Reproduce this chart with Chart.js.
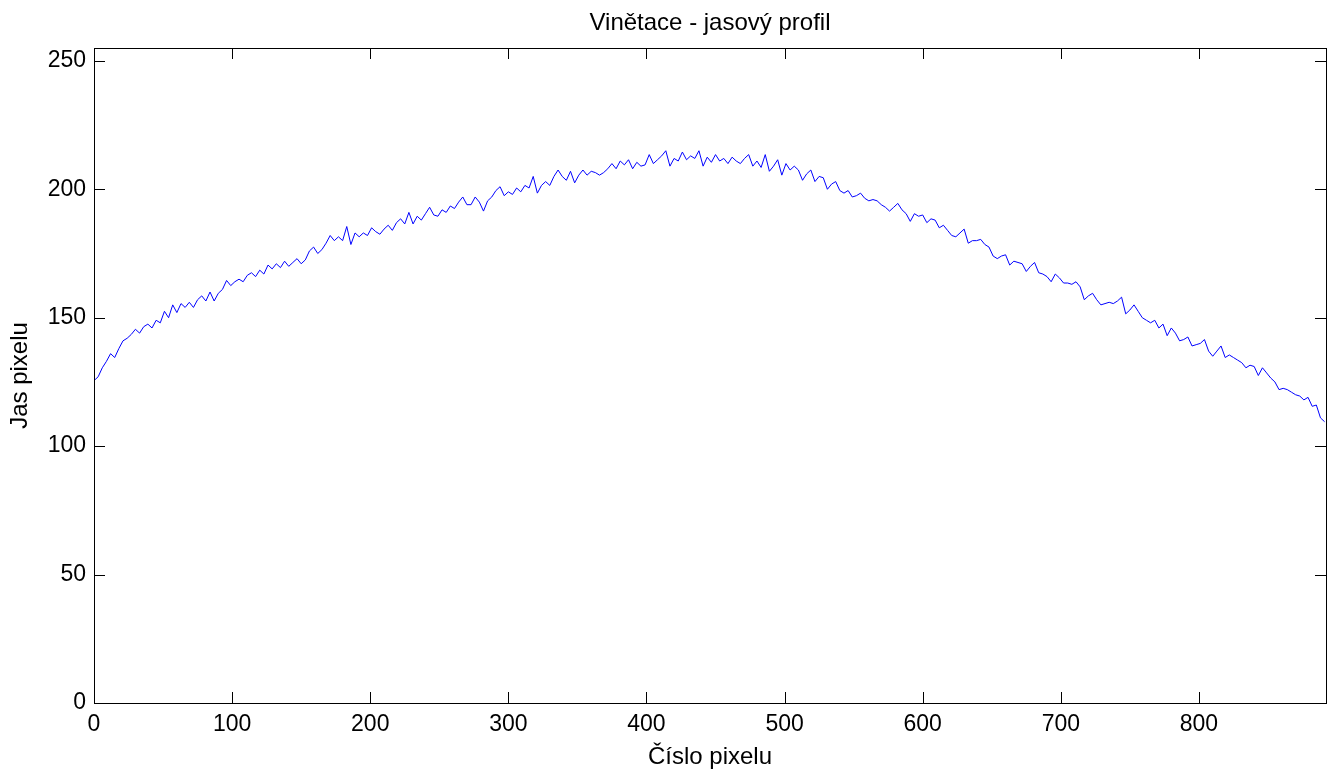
<!DOCTYPE html>
<html>
<head>
<meta charset="utf-8">
<script src="https://cdn.jsdelivr.net/npm/chart.js@4"></script>
<style>
    html, body { margin: 0; padding: 0; background: #fff; }
    #wrap { width: 1330px; height: 770px; }
</style>
</head>
<body>
<div id="wrap"><canvas id="profile"></canvas></div>
<script>
// Brightness profile, one value every 3 pixels (0 .. 891)
const PIXEL_STEP = 3;
const brightness = [
    125.5, 127, 130.5, 133, 136, 134.5, 138, 141, 142, 143.5,
    145.5, 144, 146.5, 147.5, 146, 149, 148, 152.5, 150, 155,
    152, 155.5, 154, 156, 154, 157, 158.5, 156.5, 160, 156.5,
    159.5, 161, 164.5, 162.5, 164, 165, 164, 166.5, 167.5, 166,
    168.5, 167, 170.5, 169, 171, 169.5, 172, 170, 171.5, 173,
    171, 172.5, 176, 177.5, 175, 176.5, 179, 182, 180, 181.5,
    180, 185.5, 178.5, 183, 181.5, 183, 182, 185, 183.5, 182.5,
    184.5, 186, 184, 187, 188.5, 186.5, 191, 186.5, 189.5, 188,
    190.5, 193, 190, 189.5, 192, 191, 193.5, 192.5, 195, 197,
    194, 194, 197, 195, 191.5, 195.5, 197, 199.5, 201, 197.5,
    199, 198, 200.5, 199, 201.5, 200.5, 205, 198.5, 201.5, 203,
    201.5, 205, 207.5, 205, 203.5, 207, 202.5, 205.5, 207.5, 205.5,
    207, 206.5, 205.5, 206.5, 208, 210, 208, 211, 209.5, 211.5,
    208, 210.5, 209, 209.5, 213.5, 210, 211.5, 213, 215, 209,
    212, 211, 214.5, 211.5, 213, 212, 215, 209, 212.5, 210.5,
    213.5, 211, 212, 210, 212.5, 211, 210, 212, 213.5, 209,
    211, 208.5, 213.5, 207, 209, 211.5, 205.5, 210, 207.5, 209,
    207.5, 203.5, 206, 207.5, 203, 205, 204.5, 200, 202, 203,
    199.5, 198.5, 199.5, 197, 197.5, 198.5, 196.5, 195.5, 196, 195.5,
    194, 193, 191.5, 193, 194.5, 192, 190.5, 187.5, 190.5, 189.5,
    190, 187, 188.5, 188, 185, 186, 184, 182, 181.5, 183,
    184.5, 179, 180, 180, 180.5, 178.5, 177.5, 174, 173, 174,
    174.5, 170.5, 172, 171.5, 171, 168, 170, 171.5, 167.5, 167,
    166, 164, 167, 165.5, 163.5, 163.5, 163, 164, 162, 157,
    158.5, 159.5, 157, 155, 155.5, 156, 155.5, 156.5, 158, 151.5,
    153, 155, 152.5, 150, 149, 148, 149, 146, 147.5, 143,
    146, 144, 141, 141.5, 142.5, 139, 139.5, 140, 141.5, 137,
    135, 137, 139, 134.5, 135.5, 134.5, 133.5, 132.5, 130.5, 131.5,
    131, 127.5, 130.5, 128.5, 126.5, 125, 122, 122.5, 122, 121,
    120, 119.5, 118, 119, 115.5, 116, 111, 109.5
];

const xTicks = [0, 100, 200, 300, 400, 500, 600, 700, 800];
const yTicks = [0, 50, 100, 150, 200, 250];
const X_MAX = 892;
const Y_MAX = 255;

const points = [];
for (let i = 0; i < brightness.length; i ++) {
    points.push({ x: i * PIXEL_STEP, y: brightness[i] });
}

const FONT = "'Liberation Sans', Arial, sans-serif";
const TICK_LEN = 11;

// MATLAB style box with inward ticks on all four sides
const boxPlugin = {
    id: "box",
    afterDraw(chart) {
        const { ctx, chartArea: a, scales } = chart;
        ctx.save();
        ctx.strokeStyle = "#000";
        ctx.lineWidth = 1;
        ctx.strokeRect(a.left + 0.5, a.top + 0.5, a.right - a.left, a.bottom - a.top);
        ctx.beginPath();
        xTicks.forEach(v => {
            const px = Math.round(scales.x.getPixelForValue(v)) + 0.5;
            ctx.moveTo(px, a.bottom);
            ctx.lineTo(px, a.bottom - TICK_LEN);
            ctx.moveTo(px, a.top);
            ctx.lineTo(px, a.top + TICK_LEN);
        });
        yTicks.forEach(v => {
            const py = Math.round(scales.y.getPixelForValue(v)) + 0.5;
            ctx.moveTo(a.left, py);
            ctx.lineTo(a.left + TICK_LEN, py);
            ctx.moveTo(a.right, py);
            ctx.lineTo(a.right - TICK_LEN, py);
        });
        ctx.stroke();
        ctx.restore();
    }
};

new Chart(document.getElementById("profile").getContext("2d"), {
    type: "line",
    data: {
        datasets: [{
            data: points,
            borderColor: "#0000ff",
            borderWidth: 1,
            pointRadius: 0,
            tension: 0,
            fill: false
        }]
    },
    options: {
        responsive: true,
        maintainAspectRatio: false,
        animation: false,
        events: [],
        layout: { padding: { left: 0, right: 4, top: 0, bottom: 0 } },
        plugins: {
            legend: { display: false },
            tooltip: { enabled: false }
        },
        scales: {
            x: {
                type: "linear",
                min: 0,
                max: X_MAX,
                afterBuildTicks: s => { s.ticks = xTicks.map(v => ({ value: v })); },
                afterFit: s => { s.height = 67; },
                grid: { display: false, drawTicks: false },
                border: { display: false },
                ticks: {
                    color: "#000",
                    padding: 8,
                    maxRotation: 0,
                    font: { family: FONT, size: 23 }
                },
                title: {
                    display: true,
                    text: "Číslo pixelu",
                    color: "#000",
                    font: { family: FONT, size: 24, lineHeight: 1 },
                    padding: { top: 0, bottom: 1 }
                }
            },
            // top axis only carries the title so it centres over the plot box
            top: {
                type: "linear",
                position: "top",
                min: 0,
                max: X_MAX,
                afterFit: s => { s.height = 48; },
                grid: { display: false, drawTicks: false },
                border: { display: false },
                ticks: { display: false },
                title: {
                    display: true,
                    text: "Vinětace - jasový profil",
                    color: "#000",
                    font: { family: FONT, size: 24, lineHeight: 1 },
                    padding: { top: 11, bottom: 0 }
                }
            },
            y: {
                type: "linear",
                min: 0,
                max: Y_MAX,
                afterBuildTicks: s => { s.ticks = yTicks.map(v => ({ value: v })); },
                afterFit: s => { s.width = 94; },
                grid: { display: false, drawTicks: false },
                border: { display: false },
                ticks: {
                    color: "#000",
                    padding: 8,
                    font: { family: FONT, size: 23 }
                },
                title: {
                    display: true,
                    text: "Jas pixelu",
                    color: "#000",
                    font: { family: FONT, size: 24, lineHeight: 1 },
                    padding: { top: 8, bottom: 0 }
                }
            }
        }
    },
    plugins: [boxPlugin]
});
</script>
</body>
</html>
